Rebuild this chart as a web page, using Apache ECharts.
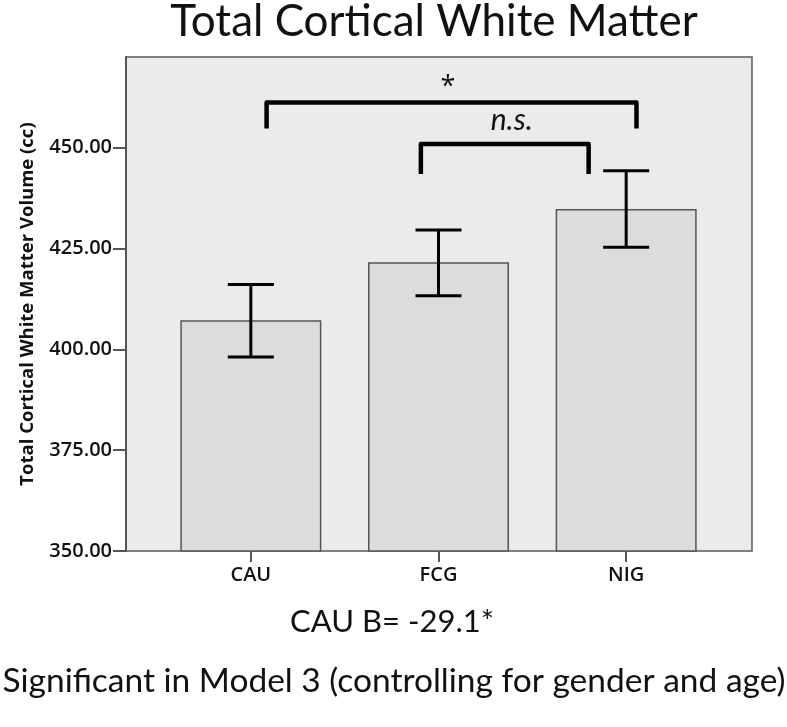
<!DOCTYPE html>
<html>
<head>
<meta charset="utf-8">
<script src="https://cdn.jsdelivr.net/npm/echarts@6/dist/echarts.min.js"></script>
<style>
html,body{margin:0;padding:0;background:#fff;}
#chart{width:787px;height:727px;}
</style>
</head>
<body>
<div id="chart"></div>
<script>
// ---- data ----
const categories = ['CAU', 'FCG', 'NIG'];
const means = [407.2, 421.6, 434.8];
const ciLow = [398.1, 413.3, 425.3];
const ciHigh = [416.1, 429.6, 444.3];
const yTicks = [350, 375, 400, 425, 450];
const yMin = 350;
const yMax = 472.5;
// significance brackets (x in category units, y in cc)
const bracketLeft = [0.084, 0.906];
const bracketRight = [2.055, 1.80];
const bracketTop = [461.2, 450.9];
const bracketBottom = [454.8, 443.5];
const bracketLabels = ['*', 'n.s.'];
const bracketLabelX = [1.05, 1.39];
const bracketLabelY = [466.0, 456.7];

const titleText = 'Total Cortical White Matter';
const yName = 'Total Cortical White Matter Volume (cc)';
const noteText = 'CAU B= -29.1*';
const footText = 'Significant in Model 3 (controlling for gender and age)';

const chart = echarts.init(document.getElementById('chart'), null, {renderer: 'canvas'});

function catX(api, frac, y) {
  const c0 = api.coord([0, y]);
  const c1 = api.coord([1, y]);
  return c0[0] + frac * (c1[0] - c0[0]);
}

const axisFont = {color: '#111', fontFamily: 'Open Sans', fontWeight: 600, fontSize: 20};

const option = {
  animation: false,
  backgroundColor: '#ffffff',
  grid: [
    {left: 126, right: 35, top: 57, bottom: 176, show: true,
     backgroundColor: '#ebebeb', borderColor: '#5a5a5a', borderWidth: 1.5},
    {left: 157, right: 67, top: 57, bottom: 176}
  ],
  xAxis: [
    {gridIndex: 0, type: 'value', show: false, min: 0, max: 1},
    {gridIndex: 1, type: 'category', data: categories,
     axisLine: {show: false},
     axisTick: {show: true, alignWithLabel: true, length: 11, lineStyle: {color: '#555', width: 2}},
     axisLabel: Object.assign({margin: 14}, axisFont)}
  ],
  yAxis: [
    {gridIndex: 0, type: 'value', show: false, min: 0, max: 1},
    {gridIndex: 1, type: 'value', min: yMin, max: yMax, offset: 31,
     axisLine: {show: true, lineStyle: {color: '#555', width: 2}},
     axisTick: {show: true, length: 13, customValues: yTicks, lineStyle: {color: '#555', width: 2}},
     axisLabel: Object.assign({customValues: yTicks, formatter: v => Number(v).toFixed(2), margin: 14}, axisFont),
     splitLine: {show: false},
     name: yName, nameLocation: 'middle', nameGap: 89,
     nameTextStyle: {fontFamily: 'Open Sans', fontWeight: 'bold', fontSize: 18.5, color: '#111'}}
  ],
  series: [
    {type: 'bar', xAxisIndex: 1, yAxisIndex: 1, data: means, barWidth: 141, z: 2,
     itemStyle: {color: '#dcdcdc', borderColor: '#555', borderWidth: 1.5}},
    {type: 'custom', xAxisIndex: 1, yAxisIndex: 1, z: 10,
     data: categories.map((c, i) => [i, ciLow[i], ciHigh[i]]),
     renderItem: function (params, api) {
       const lo = api.coord([api.value(0), api.value(1)]);
       const hi = api.coord([api.value(0), api.value(2)]);
       const hw = 23;
       const st = {stroke: '#000', lineWidth: 3};
       return {type: 'group', children: [
         {type: 'line', shape: {x1: lo[0], y1: lo[1], x2: hi[0], y2: hi[1]}, style: st},
         {type: 'line', shape: {x1: lo[0] - hw, y1: lo[1], x2: lo[0] + hw, y2: lo[1]}, style: st},
         {type: 'line', shape: {x1: hi[0] - hw, y1: hi[1], x2: hi[0] + hw, y2: hi[1]}, style: st}
       ]};
     }},
    {type: 'custom', xAxisIndex: 1, yAxisIndex: 1, z: 10,
     data: bracketLabels.map((l, i) => [0, bracketTop[i]]),
     renderItem: function (params, api) {
       const i = params.dataIndex;
       const yT = api.coord([0, bracketTop[i]])[1];
       const yB = api.coord([0, bracketBottom[i]])[1];
       const xL = catX(api, bracketLeft[i], bracketTop[i]);
       const xR = catX(api, bracketRight[i], bracketTop[i]);
       const lx = catX(api, bracketLabelX[i], bracketLabelY[i]);
       const ly = api.coord([0, bracketLabelY[i]])[1];
       const isStar = bracketLabels[i] === '*';
       return {type: 'group', children: [
         {type: 'polyline', shape: {points: [[xL, yB], [xL, yT], [xR, yT], [xR, yB]]},
          style: {stroke: '#000', lineWidth: 4.5, fill: null, lineJoin: 'round', lineCap: 'butt'}},
         {type: 'text', x: lx, y: isStar ? ly + 4 : ly,
          style: {text: bracketLabels[i], fill: '#111',
                  font: (isStar ? 'normal 27px "Open Sans"' : 'italic 30px Lato'),
                  align: 'center', verticalAlign: 'middle', textAlign: 'center', textVerticalAlign: 'middle'}}
       ]};
     }}
  ],
  graphic: [
    {type: 'text', x: 434, y: 22,
     style: {text: titleText, font: 'normal 44px Lato', fill: '#111',
             align: 'center', verticalAlign: 'middle', textAlign: 'center', textVerticalAlign: 'middle'}},
    {type: 'text', x: 392, y: 622,
     style: {text: noteText, font: 'normal 31px Lato', fill: '#111',
             align: 'center', verticalAlign: 'middle', textAlign: 'center', textVerticalAlign: 'middle'}},
    {type: 'text', x: 394, y: 681,
     style: {text: footText, font: 'normal 33.5px Lato', fill: '#111',
             align: 'center', verticalAlign: 'middle', textAlign: 'center', textVerticalAlign: 'middle'}}
  ]
};
chart.setOption(option);
</script>
</body>
</html>
